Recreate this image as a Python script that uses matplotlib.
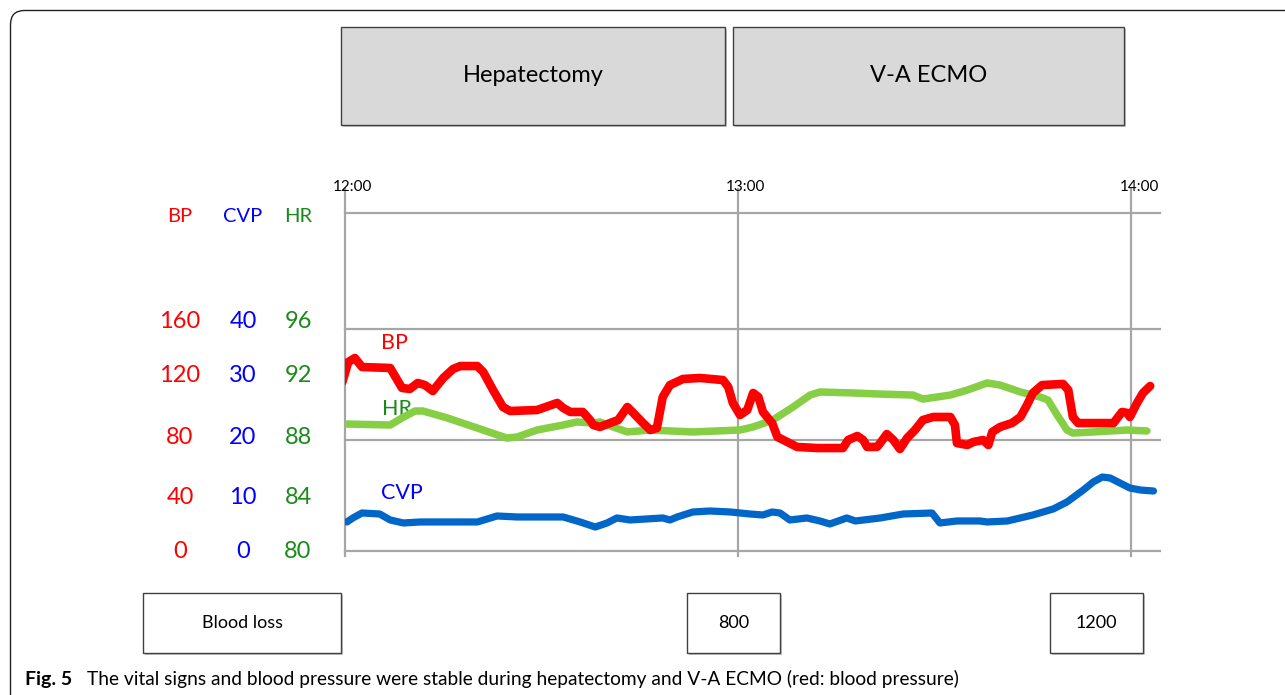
import matplotlib
matplotlib.use("Agg")
import matplotlib.pyplot as plt
from matplotlib.patches import Rectangle, FancyBboxPatch
import numpy as np

# ---------------- data (minutes after 12:00) ----------------
bp_t = [-0.4, 0.5, 1.5, 2.6, 6.9, 8.7, 9.9, 11.1, 12.2, 13.4, 15.0, 16.5, 17.6, 20.2, 21.1,
        22.6, 24.1, 25.2, 29.3, 32.4, 33.3, 34.4, 36.3, 37.4, 37.9, 38.9, 40.9, 41.7, 43.1,
        44.0, 45.5, 46.6, 47.6, 48.5, 49.6, 51.6, 54.2, 57.7, 58.5, 59.2, 60.3, 61.4, 62.3,
        63.1, 63.8, 65.2, 66.0, 67.5, 69.0, 72.1, 76.0, 76.8, 78.2, 79.1, 79.7, 81.2, 81.7,
        82.7, 83.7, 84.7, 85.8, 87.0, 88.2, 89.8, 92.4, 93.1, 93.4, 95.0, 95.9, 97.4, 98.2,
        98.8, 100.0, 101.8, 103.1, 104.1, 105.0, 106.4, 109.6, 110.4, 111.1, 111.9, 114.2,
        117.3, 118.6, 119.4, 119.8, 120.9, 121.8, 122.9]
bp_v = [121.8, 136.2, 139.1, 132.6, 131.9, 117.5, 116.8, 121.1, 119.6, 115.3, 124.7, 131.2,
        133.3, 133.3, 129.0, 116.0, 103.8, 100.9, 101.6, 106.7, 103.1, 100.2, 100.2, 94.4,
        90.8, 89.4, 93.0, 94.4, 103.8, 99.5, 92.2, 87.2, 88.6, 111.0, 119.6, 124.0, 124.7,
        123.2, 118.2, 106.7, 98.0, 101.6, 113.9, 111.0, 100.2, 92.2, 82.2, 78.6, 75.0, 74.2,
        74.2, 80.0, 82.9, 80.0, 75.0, 75.0, 77.8, 84.3, 80.0, 73.5, 81.4, 87.2, 94.4, 96.6,
        96.6, 90.8, 77.8, 76.4, 78.6, 80.0, 76.4, 85.8, 89.4, 92.2, 96.6, 105.2, 113.9, 119.6,
        120.4, 116.0, 96.6, 92.2, 92.2, 92.2, 100.2, 99.5, 96.6, 106.7, 113.9, 118.9]

hr_t = [0.3, 6.9, 8.7, 10.7, 11.9, 15.6, 20.2, 24.7, 26.3, 29.3, 33.3, 35.4, 37.9, 38.9, 40.9,
        43.1, 46.6, 53.1, 60.3, 62.3, 65.3, 68.4, 71.0, 72.5, 77.6, 81.7, 86.7, 88.2, 92.4,
        95.0, 98.0, 100.0, 103.1, 106.1, 107.3, 108.7, 110.2, 111.1, 114.2, 119.4, 122.4]
hr_v = [89.15, 89.08, 89.59, 90.09, 90.09, 89.59, 88.86, 88.14, 88.22, 88.72, 89.08, 89.30,
        89.22, 89.30, 88.94, 88.58, 88.72, 88.58, 88.72, 88.94, 89.44, 90.38, 91.24, 91.46,
        91.39, 91.31, 91.24, 90.95, 91.24, 91.60, 92.11, 91.96, 91.46, 91.10, 90.88, 89.80,
        88.72, 88.50, 88.58, 88.72, 88.65]

cvp_t = [0.3, 1.2, 2.6, 5.3, 6.9, 8.9, 11.5, 20.2, 23.2, 26.3, 33.3, 35.9, 38.2, 40.0, 41.5,
         43.5, 48.5, 49.6, 50.7, 53.1, 55.7, 58.8, 61.8, 63.8, 65.2, 66.4, 67.9, 70.5, 72.5,
         74.0, 76.6, 77.9, 81.7, 85.2, 89.6, 90.8, 93.4, 96.9, 98.0, 101.1, 105.0, 108.1,
         110.2, 112.7, 114.2, 115.6, 116.8, 119.8, 121.4, 123.4]
cvp_v = [5.23, 5.95, 6.85, 6.67, 5.59, 5.05, 5.23, 5.23, 6.31, 6.13, 6.13, 5.23, 4.32, 5.05,
         5.95, 5.59, 5.95, 5.59, 6.13, 7.03, 7.21, 7.03, 6.67, 6.49, 7.03, 6.85, 5.59, 5.95,
         5.41, 4.87, 5.95, 5.41, 5.95, 6.67, 6.85, 5.05, 5.41, 5.41, 5.23, 5.41, 6.49, 7.57,
         8.83, 10.99, 12.43, 13.33, 13.15, 11.35, 10.99, 10.81]

time_ticks = [0, 60, 120]
time_labels = ["12:00", "13:00", "14:00"]
bp_ticks = [160, 120, 80, 40, 0]
cvp_ticks = [40, 30, 20, 10, 0]
hr_ticks = [96, 92, 88, 84, 80]
blood_loss = ["800", "1200"]

# conversion of CVP and HR onto the BP scale (0-160 mmHg)
def cvp_to_bp(v):
    return np.asarray(v) * 4.0

def hr_to_bp(v):
    return (np.asarray(v) - 80.0) * 10.0

RED = "#ff0000"
BLUE = "#0066c8"
GREEN = "#86cf45"
DKGREEN = "#1a8a1a"
TXTBLUE = "#0000ff"
GRID = "#a6a6a6"
FONT = "Lato"

W, H = 1285, 695
fig = plt.figure(figsize=(W / 100, H / 100), dpi=100)

# overlay axes in pixel coordinates for layout elements
ov = fig.add_axes([0, 0, 1, 1])
ov.set_xlim(0, W)
ov.set_ylim(H, 0)
ov.axis("off")
ov.set_zorder(0)

# main plot axes
x0, x1 = 345, 1160
y_bot, y_top = 551, 213
ax = fig.add_axes([x0 / W, 1 - y_bot / H, (x1 - x0) / W, (y_bot - y_top) / H])
ax.set_zorder(2)
ax.patch.set_alpha(0)
ax.set_xlim(0, 124.4)
ax.set_ylim(0, 243.6)
ax.axis("off")

# horizontal grid lines
for gy in [0, 80, 160, 243.6]:
    ax.axhline(gy, color=GRID, lw=1.6, zorder=1, clip_on=False)
# vertical time lines
for tt, lab in zip(time_ticks, time_labels):
    ax.plot([tt, tt], [-0.015, 1.07], transform=ax.get_xaxis_transform(),
            color=GRID, lw=1.6, zorder=1, clip_on=False)
    ax.text(tt + 1.2, 1.077, lab, transform=ax.get_xaxis_transform(), ha="center",
            va="center", fontsize=11, family=FONT, color="black")

ax.plot(hr_t, hr_to_bp(hr_v), color=GREEN, lw=5.4, solid_capstyle="round",
        solid_joinstyle="round", zorder=3)
ax.plot(bp_t, bp_v, color=RED, lw=6.2, solid_capstyle="round",
        solid_joinstyle="round", zorder=4)
ax.plot(cvp_t, cvp_to_bp(cvp_v), color=BLUE, lw=5.2, solid_capstyle="round",
        solid_joinstyle="round", zorder=3)

# inline series labels
ov.text(394, 343, "BP", color=RED, fontsize=15.5, family=FONT, ha="center", va="center", zorder=5)
ov.text(397, 409, "HR", color=DKGREEN, fontsize=15.5, family=FONT, ha="center", va="center", zorder=5)
ov.text(402, 493, "CVP", color=TXTBLUE, fontsize=15.5, family=FONT, ha="center", va="center", zorder=5)

# left scale labels
cols = [(180, "BP", RED, bp_ticks), (243, "CVP", TXTBLUE, cvp_ticks), (298, "HR", DKGREEN, hr_ticks)]
label_y = [322, 376, 437, 497, 551]
for cx, name, col, ticks in cols:
    ov.text(cx, 217, name, color=col, fontsize=14.5, family=FONT, ha="center", va="center")
    for ly, tv in zip(label_y, ticks):
        ov.text(cx, ly, str(tv), color=col, fontsize=17, family=FONT, ha="center", va="center")

# top phase boxes
def box(xa, ya, xb, yb, fc, text, fs):
    ov.add_patch(Rectangle((xa + 2, ya + 2), xb - xa, yb - ya, facecolor="#c8c8c8",
                           edgecolor="none", zorder=1))
    ov.add_patch(Rectangle((xa, ya), xb - xa, yb - ya, facecolor=fc,
                           edgecolor="#404040", lw=1.0, zorder=2))
    ov.text((xa + xb) / 2, (ya + yb) / 2, text, ha="center", va="center",
            fontsize=fs, family=FONT, color="black", zorder=3)

box(341, 27, 725, 125, "#d9d9d9", "Hepatectomy", 17)
box(733, 27, 1124, 125, "#d9d9d9", "V-A ECMO", 17)
box(143, 593, 341, 653, "white", "Blood loss", 13)
box(687, 593, 780, 653, "white", blood_loss[0], 13)
box(1050, 593, 1143, 653, "white", blood_loss[1], 13)

# figure frame (rounded top-left corner)
ov.add_patch(FancyBboxPatch((10.5, 10.5), 1400, 800, boxstyle="round,pad=0,rounding_size=14",
                            facecolor="none", edgecolor="#222222", lw=1.0, zorder=0,
                            clip_on=False))

# caption
ov.text(25, 679, "Fig. 5", fontsize=14, family=FONT, weight="bold", ha="left", va="center")
ov.text(87, 679, "The vital signs and blood pressure were stable during hepatectomy and V-A ECMO (red: blood pressure)",
        fontsize=13.8, family=FONT, ha="left", va="center")

fig.savefig("out.png", dpi=100)
